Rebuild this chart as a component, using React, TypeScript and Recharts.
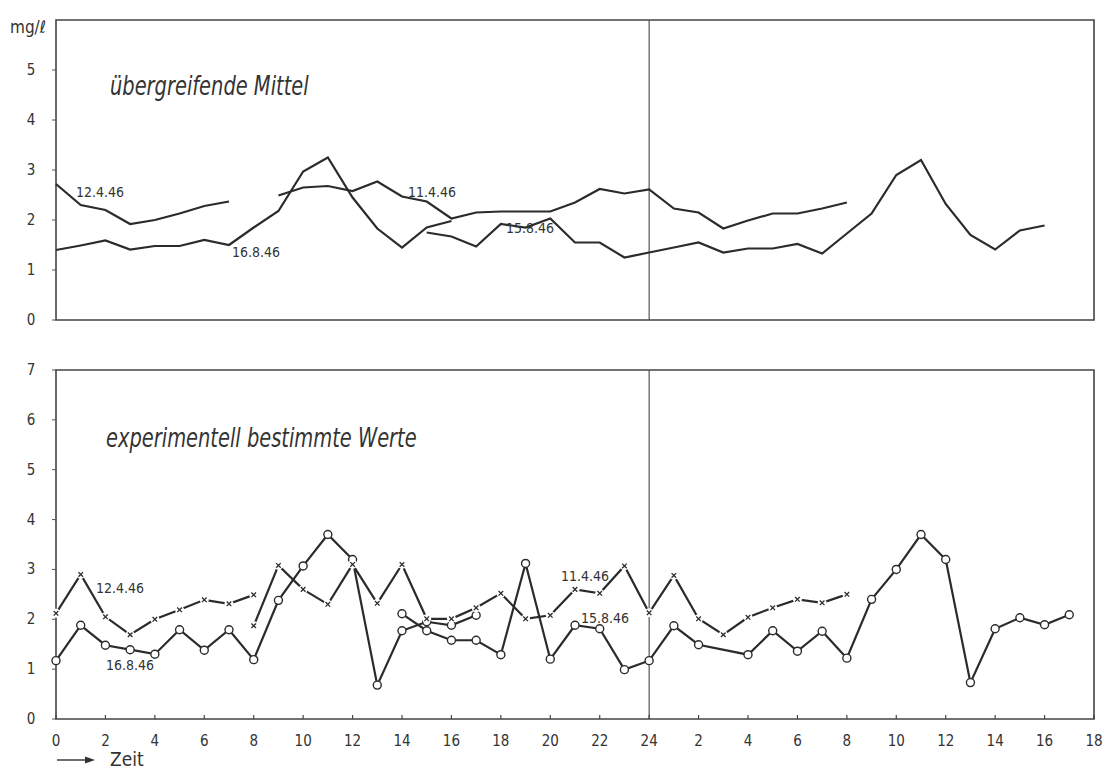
import React from 'react';
import { LineChart, Line, XAxis, YAxis, ReferenceLine, ReferenceArea } from 'recharts';

// hours 0..42 (second day shown as 2..18 after the 24 line)
const hourTicks = [0, 2, 4, 6, 8, 10, 12, 14, 16, 18, 20, 22, 24, 26, 28, 30, 32, 34, 36, 38, 40, 42];
const topYTicks = [0, 1, 2, 3, 4, 5];
const bottomYTicks = [0, 1, 2, 3, 4, 5, 6, 7];

// übergreifende Mittel (top panel), each list starts at the given hour
const topApr12Start = 0;
const topApr12 = [2.72, 2.3, 2.2, 1.92, 2.0, 2.13, 2.28, 2.37];
const topAug16Start = 0;
const topAug16 = [1.4, 1.49, 1.59, 1.41, 1.48, 1.48, 1.6, 1.5, 1.85, 2.18, 2.97, 3.25, 2.45, 1.83, 1.45, 1.85, 1.98];
const topApr11Start = 9;
const topApr11 = [2.49, 2.65, 2.68, 2.58, 2.77, 2.47, 2.37, 2.03, 2.15, 2.17, 2.17, 2.17, 2.35, 2.62, 2.53, 2.61, 2.23, 2.15, 1.83, 1.99, 2.13, 2.13, 2.23, 2.35];
const topAug15Start = 15;
const topAug15 = [1.75, 1.67, 1.47, 1.92, 1.85, 2.03, 1.55, 1.55, 1.25, 1.35, 1.45, 1.55, 1.35, 1.43, 1.43, 1.52, 1.33, 1.73, 2.13, 2.9, 3.2, 2.32, 1.7, 1.41, 1.79, 1.89];

// experimentell bestimmte Werte (bottom panel)
const botApr12Start = 0;
const botApr12 = [2.12, 2.9, 2.05, 1.69, 2.0, 2.19, 2.39, 2.31, 2.49];
const botApr11Start = 8;
const botApr11 = [1.87, 3.08, 2.6, 2.3, 3.1, 2.32, 3.1, 2.01, 2.01, 2.23, 2.52, 2.01, 2.08, 2.6, 2.52, 3.07, 2.13, 2.88, 2.01, 1.69, 2.04, 2.23, 2.4, 2.33, 2.5];
const botAug16Start = 0;
const botAug16 = [1.17, 1.88, 1.48, 1.39, 1.3, 1.79, 1.38, 1.79, 1.19, 2.38, 3.07, 3.7, 3.2, 0.68, 1.77, 1.95, 1.88, 2.08];
const botAug15Start = 14;
const botAug15 = [2.11, 1.77, 1.58, 1.58, 1.29, 3.12, 1.2, 1.88, 1.81, 0.99, 1.17, 1.87, 1.49, null, 1.29, 1.77, 1.36, 1.76, 1.22, 2.4, 3.0, 3.7, 3.2, 0.73, 1.81, 2.03, 1.89, 2.09];

const INK = '#2b2b2b';
const FONT = '"DejaVu Sans Condensed", "DejaVu Sans", sans-serif';

function buildRows(series: Record<string, [number, (number | null)[]]>) {
  const rows: any[] = [];
  for (let h = 0; h <= 42; h++) {
    const row: any = { h };
    Object.entries(series).forEach(([key, [start, vals]]) => {
      const i = h - start;
      row[key] = i >= 0 && i < vals.length ? vals[i] : undefined;
    });
    rows.push(row);
  }
  return rows;
}

const topData = buildRows({
  apr12: [topApr12Start, topApr12],
  aug16: [topAug16Start, topAug16],
  apr11: [topApr11Start, topApr11],
  aug15: [topAug15Start, topAug15],
});

const bottomData = buildRows({
  apr12: [botApr12Start, botApr12],
  apr11: [botApr11Start, botApr11],
  aug16: [botAug16Start, botAug16],
  aug15: [botAug15Start, botAug15],
});

const hourLabel = (h: number) => (h <= 24 ? String(h) : String(h - 24));

const LeftTick = ({ y, payload }: any) => (
  <text x={31} y={y} dy={5} textAnchor="middle" fontSize={15} fill="#333" fontFamily={FONT}>
    {payload.value}
  </text>
);

const RightTick = ({ y, payload }: any) => (
  <text x={1109} y={y} dy={5} textAnchor="middle" fontSize={15} fill="#333" fontFamily={FONT}>
    {payload.value}
  </text>
);

const HourTick = ({ x, y, payload }: any) => (
  <g>
    <line x1={x} x2={x} y1={y} y2={y - 4} stroke="#444" strokeWidth={1.2} />
    <text x={x} y={y + 27} textAnchor="middle" fontSize={15} fill="#333" fontFamily={FONT}>
      {hourLabel(payload.value)}
    </text>
  </g>
);

const CrossDot = (props: any) => {
  const { cx, cy, index, value } = props;
  if (cy == null || value == null) return <g key={`x-${index}`} />;
  return (
    <g key={`x-${index}`}>
      <circle cx={cx} cy={cy} r={4.5} fill="#fff" />
      <path
        d={`M${cx - 2.3},${cy - 2.3}L${cx + 2.3},${cy + 2.3}M${cx - 2.3},${cy + 2.3}L${cx + 2.3},${cy - 2.3}`}
        stroke={INK}
        strokeWidth={1.3}
      />
    </g>
  );
};

const circleDot = { r: 4, fill: '#fff', stroke: INK, strokeWidth: 1.4 };

const note = (left: number, top: number, size = 14): React.CSSProperties => ({
  position: 'absolute',
  left,
  top,
  fontSize: size,
  fontFamily: FONT,
  color: '#333',
  lineHeight: 1,
  whiteSpace: 'nowrap',
});

const title = (left: number, top: number): React.CSSProperties => ({
  position: 'absolute',
  left,
  top,
  fontSize: 27,
  fontStyle: 'italic',
  fontFamily: FONT,
  color: '#333',
  lineHeight: 1,
  whiteSpace: 'nowrap',
  transform: 'scaleX(0.8)',
  transformOrigin: 'left top',
});

export default function App() {
  return (
    <div style={{ position: 'absolute', left: 0, top: 0, width: 1116, height: 771, background: '#fff' }}>
      <LineChart width={1116} height={340} data={topData} margin={{ top: 20, right: 0, bottom: 20, left: 0 }}>
        <XAxis xAxisId="b" dataKey="h" type="number" domain={[0, 42]} ticks={hourTicks} tick={false} tickLine={false} height={0} axisLine={false} />
        <YAxis yAxisId="l" width={56} domain={[0, 6]} ticks={topYTicks} tick={<LeftTick />} tickSize={4} tickLine={{ stroke: '#555' }} axisLine={false} />
        <YAxis yAxisId="r" orientation="right" width={22} domain={[0, 6]} ticks={topYTicks} tick={<RightTick />} tickSize={4} tickLine={{ stroke: '#555' }} axisLine={false} />
        <ReferenceArea xAxisId="b" yAxisId="l" x1={0} x2={42} y1={0} y2={6} fill="none" fillOpacity={0} stroke="#444" strokeWidth={1.6} />
        <ReferenceLine xAxisId="b" yAxisId="l" x={24} stroke="#444" strokeWidth={1.1} />
        <Line xAxisId="b" yAxisId="l" dataKey="apr12" stroke={INK} strokeWidth={2.2} dot={false} isAnimationActive={false} />
        <Line xAxisId="b" yAxisId="l" dataKey="aug16" stroke={INK} strokeWidth={2.2} dot={false} isAnimationActive={false} />
        <Line xAxisId="b" yAxisId="l" dataKey="apr11" stroke={INK} strokeWidth={2.2} dot={false} isAnimationActive={false} />
        <Line xAxisId="b" yAxisId="l" dataKey="aug15" stroke={INK} strokeWidth={2.2} dot={false} isAnimationActive={false} />
      </LineChart>

      <div style={{ position: 'absolute', left: 0, top: 340 }}>
        <LineChart width={1116} height={431} data={bottomData} margin={{ top: 30, right: 0, bottom: 0, left: 0 }}>
          <XAxis xAxisId="b" dataKey="h" type="number" domain={[0, 42]} ticks={hourTicks} tick={<HourTick />} tickLine={false} tickSize={0} tickMargin={0} height={52} axisLine={false} interval={0} />
          <YAxis yAxisId="l" width={56} domain={[0, 7]} ticks={bottomYTicks} tick={<LeftTick />} tickSize={4} tickLine={{ stroke: '#555' }} axisLine={false} />
          <YAxis yAxisId="r" orientation="right" width={22} domain={[0, 7]} ticks={bottomYTicks} tick={<RightTick />} tickSize={4} tickLine={{ stroke: '#555' }} axisLine={false} />
          <ReferenceArea xAxisId="b" yAxisId="l" x1={0} x2={42} y1={0} y2={7} fill="none" fillOpacity={0} stroke="#444" strokeWidth={1.6} />
          <ReferenceLine xAxisId="b" yAxisId="l" x={24} stroke="#444" strokeWidth={1.1} />
          <Line xAxisId="b" yAxisId="l" dataKey="aug16" stroke={INK} strokeWidth={2.2} dot={circleDot} isAnimationActive={false} />
          <Line xAxisId="b" yAxisId="l" dataKey="aug15" stroke={INK} strokeWidth={2.2} dot={circleDot} connectNulls isAnimationActive={false} />
          <Line xAxisId="b" yAxisId="l" dataKey="apr12" stroke={INK} strokeWidth={2.2} dot={CrossDot} isAnimationActive={false} />
          <Line xAxisId="b" yAxisId="l" dataKey="apr11" stroke={INK} strokeWidth={2.2} dot={CrossDot} isAnimationActive={false} />
        </LineChart>
      </div>

      {/* unit and panel titles */}
      <div style={note(10, 19, 17)}>mg/ℓ</div>
      <div style={title(110, 72)}>übergreifende Mittel</div>
      <div style={title(106, 424)}>experimentell bestimmte Werte</div>

      {/* date annotations, top panel */}
      <div style={note(76, 185)}>12.4.46</div>
      <div style={note(232, 245)}>16.8.46</div>
      <div style={note(408, 185)}>11.4.46</div>
      <div style={note(506, 221)}>15.8.46</div>

      {/* date annotations, bottom panel */}
      <div style={note(96, 581)}>12.4.46</div>
      <div style={note(106, 658)}>16.8.46</div>
      <div style={note(561, 569)}>11.4.46</div>
      <div style={note(581, 611)}>15.8.46</div>

      {/* time arrow */}
      <svg style={{ position: 'absolute', left: 55, top: 752 }} width={45} height={16}>
        <line x1={2} y1={8} x2={34} y2={8} stroke="#333" strokeWidth={1.4} />
        <path d="M30,4.5 L40,8 L30,11.5 Z" fill="#333" />
      </svg>
      <div style={note(110, 750, 19)}>Zeit</div>
    </div>
  );
}
